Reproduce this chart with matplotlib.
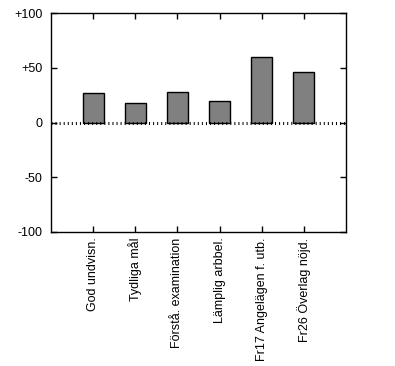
import matplotlib
matplotlib.use("Agg")
import matplotlib.pyplot as plt

plt.rcParams["font.family"] = ["Liberation Sans", "DejaVu Sans"]

categories = ["God undvisn.", "Tydliga mål", "Förstå. examination",
              "Lämplig arbbel.", "Fr17 Angelägen f. utb.", "Fr26 Överlag nöjd."]
values = [27, 18, 28, 20, 60, 46]
yticks = [-100, -50, 0, 50, 100]
ytick_labels = ["-100", "-50", "0", "+50", "+100"]

fig = plt.figure(figsize=(3.95, 3.66), dpi=100)
ax = fig.add_axes([51 / 395, 1 - 232 / 366, 295 / 395, 219 / 366])

x = list(range(len(categories)))
ax.bar(x, values, width=0.5, color="#808080", edgecolor="black", linewidth=1.0, zorder=2)

# dotted zero line
ax.axhline(0, color="black", lw=2.2, linestyle=(0, (0.33, 1.0)), zorder=3)

ax.set_xlim(-1, 6)
ax.set_ylim(-100, 100)
ax.set_yticks(yticks)
ax.set_yticklabels(ytick_labels, fontsize=9)
ax.set_xticks(x)
ax.set_xticklabels(categories, rotation=90, fontsize=9)
ax.tick_params(direction="in", length=4, width=1, top=True, right=True, pad=4)
ax.tick_params(axis="y", pad=6)
for s in ax.spines.values():
    s.set_linewidth(1)

fig.savefig("out.png", dpi=100)
